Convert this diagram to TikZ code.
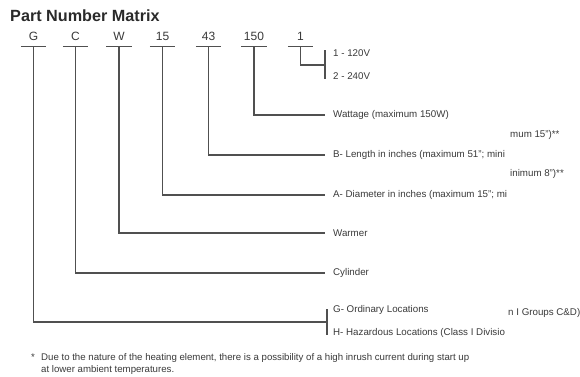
\documentclass[tikz,border=0pt]{standalone}
\usepackage{fontspec}
\setmainfont{Liberation Sans}
\definecolor{linec}{HTML}{505050}
\definecolor{txt}{HTML}{3A3A3A}
\definecolor{ttl}{HTML}{2A2A2A}
\begin{document}
\begin{tikzpicture}[x=1pt,y=-1pt,
  ln/.style={draw=linec, line width=1.4pt},
  part/.style={font=\fontsize{12}{14}\selectfont, text=txt, minimum width=25pt, inner sep=0pt, text height=9pt, text depth=6pt, anchor=base},
  desc/.style={font=\fontsize{9.75}{11}\selectfont, text=txt, inner xsep=8pt, inner ysep=0pt, anchor=west},
  frag/.style={font=\fontsize{9.75}{11}\selectfont, text=txt, inner sep=0pt, anchor=west},
  note/.style={font=\fontsize{9.65}{10}\selectfont, text=txt, inner sep=0pt, anchor=west}]
\useasboundingbox (0,0) rectangle (580,376);
\fill[white] (0,0) rectangle (580,376);
% title
\node[font=\bfseries\fontsize{16.2}{18}\selectfont, text=ttl, inner sep=0pt, anchor=base west] (title) at (10,21) {Part Number Matrix};
% part labels
\node[part] (lG) at (33.5,40) {G};
\node[part] (lC) at (75.5,40) {C};
\node[part] (lW) at (119,40) {W};
\node[part] (l15) at (162.5,40) {15};
\node[part] (l43) at (208.5,40) {43};
\node[part] (l150) at (254,40) {150};
\node[part] (l1) at (300.5,40) {1};
\foreach \n in {lG,lC,lW,l15,l43,l150,l1}{
  \draw[ln] (\n.south west) -- (\n.south east);
}
% descriptions
\node[desc] (t120) at (325,53) {1 - 120V};
\node[desc] (t240) at (325,76) {2 - 240V};
\node[desc] (tWatt) at (325,115) {Wattage (maximum 150W)};
\node[frag] (fB) at (510,135) {mum 15")**};
\node[desc] (tLen) at (325,155) {B- Length in inches (maximum 51"; mini};
\node[frag] (fA) at (510,174) {inimum 8")**};
\node[desc] (tDia) at (325,195) {A- Diameter in inches (maximum 15"; mi};
\node[desc] (tWarm) at (325,233) {Warmer};
\node[desc] (tCyl) at (325,273) {Cylinder};
\node[desc] (tOrd) at (325,310) {G- Ordinary Locations};
\node[frag] (fH) at (508,313) {n I Groups C\&D)};
\node[desc] (tHaz) at (325,333) {H- Hazardous Locations (Class I Divisio};
% coordinates
\coordinate (b1) at (325,65);
\coordinate (b1t) at (325,50);
\coordinate (b1b) at (325,79);
\coordinate (bG) at (327,322);
\coordinate (bGt) at (327,309);
\coordinate (bGb) at (327,335);
% connectors
\draw[ln] (l1.south) |- (b1);
\draw[ln] (b1t) -- (b1b);
\draw[ln] (l150.south) |- (tWatt.west);
\draw[ln] (l43.south) |- (tLen.west);
\draw[ln] (l15.south) |- (tDia.west);
\draw[ln] (lW.south) |- (tWarm.west);
\draw[ln] (lC.south) |- (tCyl.west);
\draw[ln] (lG.south) |- (bG);
\draw[ln] (bGt) -- (bGb);
% footnote
\node[note] (star) at (31,357) {*};
\node[note] (n1) at (41,358) {Due to the nature of the heating element, there is a possibility of a high inrush current during start up};
\node[note] (n2) at (41,370) {at lower ambient temperatures.};
\end{tikzpicture}
\end{document}
